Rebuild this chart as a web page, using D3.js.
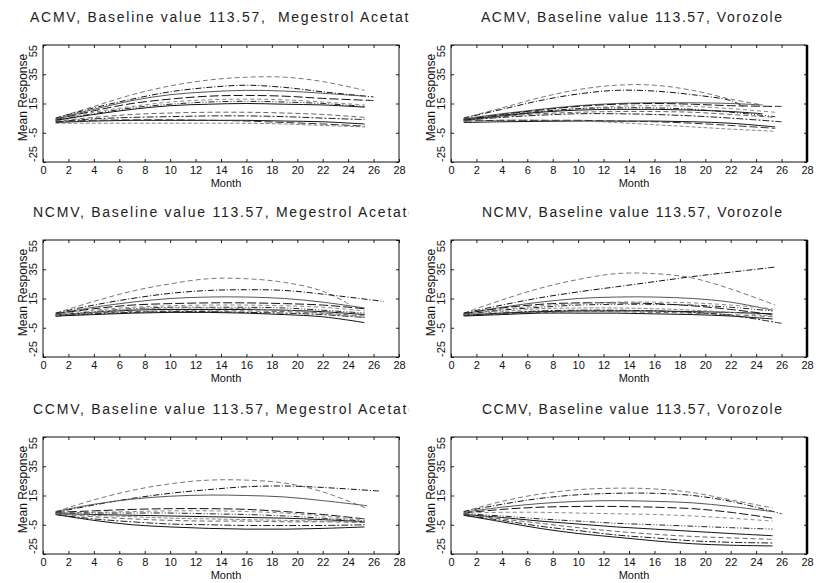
<!DOCTYPE html>
<html><head><meta charset="utf-8">
<script src="https://cdn.jsdelivr.net/npm/d3@7"></script>
<style>body{margin:0;background:#fff}svg{display:block}</style>
</head><body>
<svg id="c" width="816" height="583"></svg>
<script>
// ---------- data ----------
const months = [1, 4, 7, 10, 13, 16, 19, 22];      // sample months; last value of each series is at its end month
const xTicks = [0, 2, 4, 6, 8, 10, 12, 14, 16, 18, 20, 22, 24, 26, 28];
const yTicks = [-25, -5, 15, 35, 55];

const titles = [
  "ACMV, Baseline value 113.57,  Megestrol Acetate",
  "ACMV, Baseline value 113.57, Vorozole",
  "NCMV, Baseline value 113.57, Megestrol Acetate",
  "NCMV, Baseline value 113.57, Vorozole",
  "CCMV, Baseline value 113.57, Megestrol Acetate",
  "CCMV, Baseline value 113.57, Vorozole"
];

const acmvMegEnd = [25.3, 26, 25.3, 26, 25.3, 25.3, 25.3, 25.3, 25.3, 25.3, 25.3, 25.3];
const acmvMeg = [
  [5, 13, 21, 27, 31, 33, 33, 30, 24],
  [5, 12, 18, 23, 26, 27.5, 26, 23, 19.5],
  [4.5, 11, 17, 21, 23, 24, 23.5, 22, 20],
  [4, 10, 15, 18, 20, 20.5, 20, 18.5, 17],
  [4, 9, 13, 16, 17.5, 18, 17.5, 16, 14],
  [3.5, 8, 12, 14.5, 16, 16.5, 16, 15, 13],
  [3.5, 7.5, 11, 13.5, 14.5, 15, 14.5, 14, 12.5],
  [3, 5.5, 7.5, 8.5, 9, 9, 8.5, 7.5, 5.5],
  [2.5, 4.5, 5.5, 6, 6.5, 6.5, 6, 5, 4],
  [2, 3, 3.5, 3.5, 3.5, 3.5, 3, 2.5, 1],
  [1.5, 1.5, 1.5, 1.5, 1.5, 1.5, 1, 0, -1],
  [2.5, 3.5, 3.8, 3.8, 3.5, 3, 2, 1, -0.5]
];

const acmvVorEnd = [24.5, 23, 24.5, 26, 25.5, 25.5, 24.5, 25.5, 26, 25.5, 25.5, 25.5];
const acmvVor = [
  [5, 12, 19, 24.5, 27.5, 27.5, 24, 18, 14],
  [5, 11, 17, 21.5, 24, 23.5, 21, 17, 13],
  [4.5, 8, 11, 13.5, 15, 15.5, 15.5, 15, 14],
  [4, 7.5, 10.5, 13, 14.5, 15, 14.5, 13.5, 13],
  [4, 7, 9.5, 11.5, 13, 13.5, 13, 11.5, 9],
  [4, 7, 9.5, 11.5, 12, 12, 11, 9, 6],
  [3.5, 6.5, 9, 10.5, 11, 11, 10.5, 9.5, 8],
  [3.5, 6, 8, 9, 9.5, 9.5, 9, 7.5, 5.5],
  [3.5, 5.5, 7, 8, 8, 7.5, 6.5, 5, 2.5],
  [2, 2.5, 2.8, 3, 3, 3, 2.5, 1.5, -1],
  [3, 3.5, 3.5, 3, 2, 0.5, -1, -2.5, -4],
  [3, 3.5, 3.5, 3.5, 3, 2.5, 1.5, 0, -2]
];

const ncmvMegEnd = [24.2, 26.8, 25.3, 25.3, 25.3, 25.3, 25.3, 25.3, 25.3, 25.3, 25.3];
const ncmvMeg = [
  [5, 13, 20, 25, 28.5, 28.5, 26, 20, 10.5],
  [5, 10.5, 15, 18.5, 20.5, 21, 20.5, 18, 13],
  [4.5, 9, 12.5, 15, 16, 16, 15, 12.5, 8.5],
  [4.5, 8, 10.5, 11.5, 12, 12, 11.5, 10.5, 8],
  [4, 7, 9, 10, 10.5, 10.5, 10, 9, 6.5],
  [3.5, 6, 8, 9, 9, 9, 8.5, 7, 5],
  [3.5, 5.5, 7, 7.5, 7.5, 7.5, 7, 6, 4],
  [3, 5, 6, 6.5, 6.5, 6.5, 6, 5, 3],
  [3, 4.5, 5.5, 6, 6, 5.5, 5, 4, 2],
  [3, 4, 5, 5.5, 5.5, 5, 4, 2.5, -1.5],
  [3.5, 5.5, 7.5, 8.5, 8.5, 8, 7, 5, 2]
];

const ncmvVorEnd = [25.5, 25.5, 25.3, 25.3, 25.3, 25.3, 25.3, 25.3, 26, 25.3, 25.3];
const ncmvVor = [
  [5, 14, 22, 28, 32, 32, 29, 21.5, 10.5],
  [5, 10.5, 15.5, 19.5, 23, 26.5, 30, 33, 36.5],
  [4.5, 9, 12.5, 15, 16, 16, 15, 12.5, 7],
  [4.5, 8.5, 11, 12, 12, 11.5, 10, 7.5, 4],
  [4, 7.5, 10, 11.5, 12.5, 12.5, 12, 10.5, 8],
  [4, 7, 9, 10.5, 11, 11, 10.5, 9, 6.5],
  [3.5, 5, 6, 6.5, 6.5, 6.5, 6, 5.5, 4.5],
  [3.5, 4.5, 5.5, 6, 6, 5.5, 5, 4, 2.5],
  [3.5, 5, 6.5, 7, 7, 6.5, 5.5, 3.5, -2],
  [3, 4, 5, 5, 5, 4.5, 4, 3, 1],
  [4, 6, 8, 8.5, 8.5, 8, 7, 5.5, 3]
];

const ccmvMegEnd = [25.5, 26.5, 25.5, 25.3, 25.3, 25.3, 25.3, 25.3, 25.3, 25.3, 25.3];
const ccmvMeg = [
  [4, 12, 18.5, 23, 25.5, 25.5, 23.5, 17.5, 6],
  [3.5, 8.5, 13, 16.5, 19, 21, 21.5, 20.5, 18],
  [4, 9, 12.5, 14.5, 15.3, 15, 14, 11.5, 8],
  [3.5, 4.5, 5.5, 6, 6, 5.5, 4, 2, -1],
  [3, 3.5, 4, 4.5, 4.5, 4, 3, 1, -2],
  [3, 3, 3, 3, 2.5, 2, 1, -0.5, -2.5],
  [2.5, 2, 1.5, 1, 0.5, 0, -0.5, -1.5, -3],
  [2.5, 0.5, -1, -2, -2.5, -2.5, -3, -3, -3.5],
  [2, -1, -3, -4.5, -5, -5.5, -5.5, -5.5, -5],
  [2, -2, -5, -6.5, -7.5, -8, -8, -7.5, -6.5],
  [2.5, 1.5, 0.5, -0.5, -1, -1.5, -2, -2.5, -3]
];

const ccmvVorEnd = [25.3, 26, 25.3, 25.3, 25.3, 25.3, 25.3, 25.3, 25.3, 25.3];
const ccmvVor = [
  [4, 11, 16, 19, 20, 19.5, 17, 12, 6.5],
  [4, 9, 13, 15.5, 16.5, 16.5, 15, 11, 2.5],
  [3.5, 7, 9.5, 11, 11.5, 11, 10, 7.5, 4],
  [3, 5.5, 7, 7.5, 7.5, 7, 6, 3.5, -0.5],
  [3, 3.5, 3.5, 3, 2.5, 2, 1, -0.5, -2.5],
  [2.5, 1, -1, -2.5, -4, -5, -6, -7, -8],
  [2, 0, -2.5, -4.5, -6.5, -8, -9.5, -11, -12.5],
  [2, -1, -4, -7, -9.5, -11.5, -13, -14, -15],
  [1.5, -2, -6, -9, -12, -14, -16, -17, -17.5],
  [1.5, -3, -7.5, -11, -13.5, -16, -18, -19, -19.5]
];

const panelSeries = [acmvMeg, acmvVor, ncmvMeg, ncmvVor, ccmvMeg, ccmvVor];
const panelEnds = [acmvMegEnd, acmvVorEnd, ncmvMegEnd, ncmvVorEnd, ccmvMegEnd, ccmvVorEnd];

// ---------- styles / layout ----------
const dashes = ["5,3", "6,2,1,2", "", "9,3", "4,3", "6,2,1,2,1,2", "", "5,3", "7,2,2,2", "", "4,2", "8,3"];
const colors = ["#777", "#111", "#555", "#111", "#888", "#222", "#111", "#666", "#222", "#111", "#888", "#333"];
const colX = [43, 451];
const rowY = [45, 240, 437];
const W = 356, H = 117;
const titleX = [[30, 481], [33, 482], [33, 482]];
const titleLen = [[388, 301], [383, 300], [383, 300]];

const svg = d3.select("#c");
const font = "'Liberation Sans', Arial, sans-serif";

const x = d3.scaleLinear().domain([0, 28]).range([0, W]);
const y = d3.scaleLinear().domain([-25, 55]).range([H, 0]);
const line = d3.line().x(d => x(d[0])).y(d => y(d[1])).curve(d3.curveCatmullRom.alpha(0.5));

svg.append("defs").append("clipPath").attr("id", "leftclip")
  .append("rect").attr("x", 0).attr("y", 0).attr("width", 409).attr("height", 583);

for (let p = 0; p < 6; p++) {
  const r = Math.floor(p / 2), c = p % 2;
  const g = svg.append("g").attr("transform", `translate(${colX[c]},${rowY[r]})`);

  // title
  const tg = c === 0 ? svg.append("g").attr("clip-path", "url(#leftclip)") : svg;
  tg.append("text")
    .attr("x", titleX[r][c]).attr("y", rowY[r] - 23)
    .attr("textLength", titleLen[r][c]).attr("lengthAdjust", "spacing")
    .attr("font-family", font).attr("font-size", 14).attr("fill", "#222")
    .style("white-space", "pre")
    .text(titles[p]);

  // clip for lines
  const cid = "clip" + p;
  g.append("clipPath").attr("id", cid).append("rect").attr("width", W).attr("height", H);

  const lg = g.append("g").attr("clip-path", `url(#${cid})`);
  const series = panelSeries[p], ends = panelEnds[p];
  series.forEach((vals, i) => {
    const pts = months.map((m, k) => [m, vals[k]]);
    pts.push([ends[i], vals[8]]);
    lg.append("path").attr("d", line(pts))
      .attr("fill", "none").attr("stroke", colors[i % colors.length])
      .attr("stroke-width", 1).attr("stroke-dasharray", dashes[i % dashes.length]);
  });

  // axes (inward ticks)
  const bx = g.append("g").attr("transform", `translate(0,${H})`)
    .call(d3.axisBottom(x).tickValues(xTicks).tickSize(-3).tickPadding(4));
  const tx = g.append("g").call(d3.axisTop(x).tickValues(xTicks).tickSize(-3).tickFormat(""));
  const ly = g.append("g").call(d3.axisLeft(y).tickValues(yTicks).tickSize(-3).tickFormat(""));
  const ry = g.append("g").attr("transform", `translate(${W},0)`)
    .call(d3.axisRight(y).tickValues(yTicks).tickSize(-3).tickFormat(""));
  [bx, tx, ly, ry].forEach(a => { a.select(".domain").remove(); a.selectAll("line").attr("stroke", "#222"); });
  bx.selectAll("text").attr("font-family", font).attr("font-size", 11).attr("fill", "#111");

  // y tick labels rotated
  yTicks.forEach((v, i) => {
    const anchor = i === 0 ? "start" : (i === yTicks.length - 1 ? "end" : "middle");
    g.append("text")
      .attr("transform", `translate(-10,${y(v)}) rotate(-90)`)
      .attr("text-anchor", anchor).attr("dy", "0.35em")
      .attr("font-family", font).attr("font-size", 11).attr("fill", "#111")
      .text(v);
  });

  // box
  g.append("rect").attr("width", W).attr("height", H)
    .attr("fill", "none").attr("stroke", "#111").attr("stroke-width", 1);
  if (c === 1) {
    g.append("line").attr("x1", W).attr("x2", W).attr("y1", 0).attr("y2", H)
      .attr("stroke", "#000").attr("stroke-width", 2.5);
  }

  // axis titles
  g.append("text").attr("x", W / 2 + 5).attr("y", H + 25)
    .attr("text-anchor", "middle").attr("font-family", font).attr("font-size", 11).attr("fill", "#111")
    .text("Month");
  g.append("text")
    .attr("transform", `translate(-20,${H / 2 - 6}) rotate(-90)`)
    .attr("text-anchor", "middle").attr("dy", "0.35em")
    .attr("font-family", font).attr("font-size", 12).attr("fill", "#111")
    .text("Mean Response");
}
</script>
</body></html>
